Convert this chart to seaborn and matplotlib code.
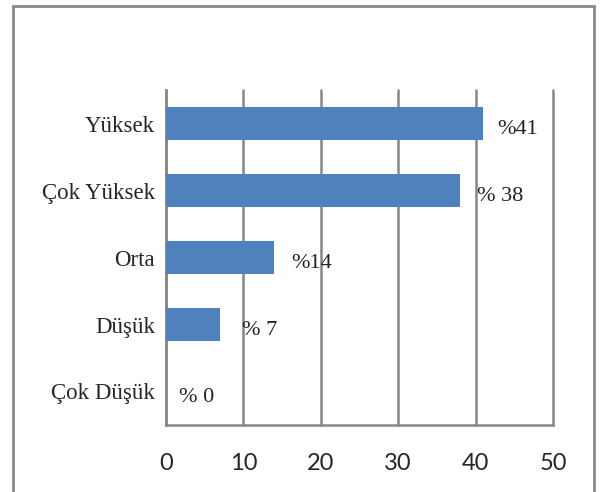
import matplotlib
matplotlib.use("Agg")
import matplotlib.pyplot as plt
from matplotlib.lines import Line2D
import seaborn as sns
import pandas as pd

categories = ["Yüksek", "Çok Yüksek", "Orta", "Düşük", "Çok Düşük"]
values = [41, 38, 14, 7, 0]
value_labels = ["%41", "% 38", "%14", "% 7", "% 0"]
x_ticks = [0, 10, 20, 30, 40, 50]

sns.set_style("white")
plt.rcParams["font.family"] = ["Liberation Serif", "DejaVu Serif"]

df = pd.DataFrame({"cat": categories, "val": values})

fig = plt.figure(figsize=(6.03, 4.92), dpi=100)
ax = fig.add_axes([166/603, 1-425/492, (553-166)/603, (425-90)/492])

grid_c = "#878787"
sns.barplot(data=df, x="val", y="cat", order=categories, color="#4F81BD",
            width=0.5, saturation=1, linewidth=0, ax=ax, zorder=3)

ax.set_xlim(0, 50)
ax.set_ylim(4.5, -0.5)
ax.set_xticks(x_ticks)
ax.set_xticklabels([str(t) for t in x_ticks], family=["Lato", "DejaVu Sans"], fontsize=17)
ax.xaxis.grid(True, color=grid_c, linewidth=1.8, zorder=0)
for gl in ax.get_xgridlines():
    gl.set_clip_on(False)
ax.set_axisbelow(True)

ax.set_yticks([-0.5, 0.5, 1.5, 2.5, 3.5, 4.5])
ax.set_yticklabels([])
ax.set_yticks(range(len(categories)), minor=True)
ax.set_yticklabels(categories, minor=True, fontsize=16.5)
ax.tick_params(axis="y", which="major", length=8, width=1.8, color=grid_c, direction="out")
ax.tick_params(axis="y", which="minor", length=0, pad=8)
ax.tick_params(axis="x", which="major", length=8, width=1.8, color=grid_c, direction="out", pad=12)

for s in ["top", "right"]:
    ax.spines[s].set_visible(False)
for s in ["left", "bottom"]:
    ax.spines[s].set_color(grid_c)
    ax.spines[s].set_linewidth(1.8)
ax.set_xlabel("")
ax.set_ylabel("")

offsets = [10, 12, 12, 16, 9]
for i, (v, lab, off) in enumerate(zip(values, value_labels, offsets)):
    ax.annotate(lab, xy=(v, i), xytext=(off, -4), textcoords="offset points",
                ha="left", va="center", fontsize=16, color="#222222")

# outer chart border (top, left, right)
bc = "#8a8a8a"
x0, x1, ytop = 13/603, 594/603, 1-6/492
fig.add_artist(Line2D([x0, x1], [ytop, ytop], transform=fig.transFigure, color=bc, lw=2))
fig.add_artist(Line2D([x0, x0], [0, ytop], transform=fig.transFigure, color=bc, lw=2))
fig.add_artist(Line2D([x1, x1], [0, ytop], transform=fig.transFigure, color=bc, lw=2))

fig.savefig("out.png", dpi=100)
